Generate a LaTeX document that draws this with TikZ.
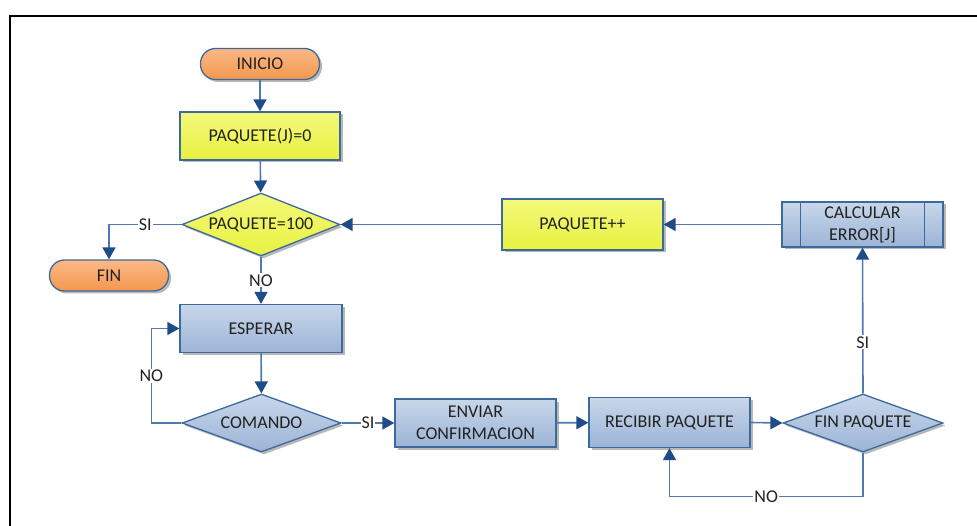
\documentclass[tikz,border=0pt]{standalone}
\usepackage{fontspec}
\setmainfont{Carlito}
\usetikzlibrary{shapes.geometric,arrows.meta,shadows}
\definecolor{bord}{HTML}{3D6A9C}
\definecolor{lin}{HTML}{5079AD}
\definecolor{tipc}{HTML}{1F4C88}
\definecolor{txt}{HTML}{222222}
\definecolor{orT}{HTML}{FBB886}
\definecolor{orB}{HTML}{F3984E}
\definecolor{yT}{HTML}{F4F97A}
\definecolor{yB}{HTML}{E8F140}
\definecolor{bT}{HTML}{C8D7EA}
\definecolor{bB}{HTML}{9CB4D6}
\tikzset{
  base/.style={draw=bord, line width=1.3pt, text=txt, font=\fontsize{18}{22}\selectfont,
    align=center, inner sep=0pt,
    drop shadow={shadow xshift=2.5pt, shadow yshift=-2.5pt, fill=black, opacity=0.28}},
  term/.style={base, rectangle, rounded corners=15pt, minimum width=119pt, minimum height=31pt, top color=orT, bottom color=orB},
  ybox/.style={base, rectangle, top color=yT, bottom color=yB},
  bbox/.style={base, rectangle, top color=bT, bottom color=bB},
  ydia/.style={base, diamond, aspect=3, top color=yT, bottom color=yB},
  bdia/.style={base, diamond, aspect=3, top color=bT, bottom color=bB},
  arr/.style={draw=lin, line width=1.6pt, -{Triangle[width=13pt,length=12pt,color=tipc]}},
  lbl/.style={fill=white, inner sep=1pt, text=txt, font=\fontsize{18}{22}\selectfont},
}
\begin{document}
\begin{tikzpicture}[x=1pt,y=-1pt]
\useasboundingbox (0,0) rectangle (977,526);
\draw[line width=2pt, black] (10,530) -- (10,16) -- (980,16);

\node[term] (ini) at (260,64) {INICIO};
\node[ybox, minimum width=160pt, minimum height=48pt] (p0) at (260,136) {PAQUETE(J)=0};
\node[ydia, minimum width=158pt, minimum height=63pt] (p100) at (261,224.5) {PAQUETE=100};
\node[term, minimum width=119pt] (fin) at (109,275.5) {FIN};
\node[bbox, minimum width=162pt, minimum height=48pt] (esp) at (261,328.5) {ESPERAR};
\node[bdia, minimum width=159pt, minimum height=58pt] (com) at (261.5,423) {COMANDO};
\node[bbox, minimum width=161pt, minimum height=48pt] (env) at (475.5,423) {ENVIAR\\CONFIRMACION};
\node[bbox, minimum width=161pt, minimum height=50pt] (rec) at (669.5,422.5) {RECIBIR PAQUETE};
\node[bdia, minimum width=160pt, minimum height=58pt] (fp) at (863,423) {FIN PAQUETE};
\node[bbox, minimum width=161pt, minimum height=45pt] (calc) at (862.5,224.5) {CALCULAR\\ERROR[J]};
\draw[draw=bord, line width=1.3pt] ([xshift=19pt]calc.north west) -- ([xshift=19pt]calc.south west);
\draw[draw=bord, line width=1.3pt] ([xshift=-19pt]calc.north east) -- ([xshift=-19pt]calc.south east);
\node[ybox, minimum width=161pt, minimum height=51pt] (pp) at (582.5,224.5) {PAQUETE++};

\draw[arr] (ini) -- (p0);
\draw[arr] (p0) -- (p100);
\draw[arr] (p100.west) -| node[lbl, pos=0.25] {SI} (fin.north);
\draw[arr] (p100.south) -- node[lbl] {NO} (esp.north);
\draw[arr] (esp) -- (com);
\draw[arr] (com.west) -- ++(-30,0) |- node[lbl, pos=0.25] {NO} (esp.west);
\draw[arr] (com.east) -- node[lbl] {SI} (env.west);
\draw[arr] (env) -- (rec);
\draw[arr] (rec.east) -- (fp.west);
\draw[arr] (fp.south) -- ++(0,44) -| node[lbl, pos=0.25] {NO} (rec.south);
\draw[arr] (fp.north) -- node[lbl, pos=0.35] {SI} (calc.south);
\draw[arr] (calc.west) -- (pp.east);
\draw[arr] (pp.west) -- (p100.east);
\end{tikzpicture}
\end{document}
